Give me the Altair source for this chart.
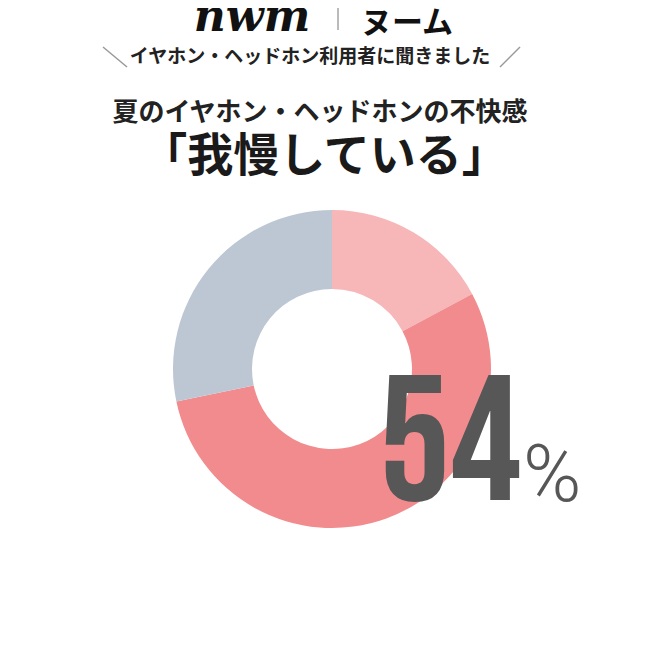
import altair as alt
import pandas as pd

# ---- data ----
categories = ["とても我慢している", "我慢している", "我慢していない"]
values = [17, 54, 28]
colors = ["#F7B6B8", "#F28B8D", "#BDC7D3"]

brand_latin = "nwm"
brand_kana = "ヌーム"
subtitle = "イヤホン・ヘッドホン利用者に聞きました"
title1 = "夏のイヤホン・ヘッドホンの不快感"
title2 = "「我慢している」"
big_number = "54"
percent_sign = "%"

W, H = 634, 632
JP = "Noto Sans CJK JP"

df = pd.DataFrame({"cat": categories, "value": values, "idx": list(range(len(values)))})

arc = alt.Chart(df).mark_arc(outerRadius=159, innerRadius=80).encode(
    theta=alt.Theta("value:Q", stack=True),
    color=alt.Color("cat:N", scale=alt.Scale(domain=categories, range=colors), legend=None),
    order=alt.Order("idx:Q"),
    x=alt.value(324),
    y=alt.value(361),
)


def txt(s, x, y, size, font, weight="normal", color="#222222", align="center", style="normal"):
    return alt.Chart(pd.DataFrame({"t": [s]})).mark_text(
        fontSize=size, font=font, fontWeight=weight, color=color,
        align=align, baseline="alphabetic", fontStyle=style,
    ).encode(text="t:N", x=alt.value(x), y=alt.value(y))


def line(x1, y1, x2, y2, color="#999999", width=1.5):
    return alt.Chart(pd.DataFrame({"a": [0]})).mark_rule(color=color, strokeWidth=width).encode(
        x=alt.value(x1), y=alt.value(y1), x2=alt.value(x2), y2=alt.value(y2)
    )


layers = [
    arc,
    txt(brand_latin, 244, 23, 44, "DejaVu Serif", weight="bold", color="#111111", style="italic"),
    line(330, 0, 330, 22, color="#777777", width=1),
    txt(brand_kana, 399, 25, 31, JP, weight="bold", color="#111111"),
    line(95, 39, 119, 59),
    line(492, 59, 512, 39),
    txt(subtitle, 302, 55, 19, JP, weight="bold", color="#222222"),
    txt(title1, 312, 113, 26, JP, weight="bold", color="#222222"),
    txt(title2, 316.5, 163, 46, JP, weight="bold", color="#1a1a1a"),
    txt(big_number, 371, 492, 178, "Bebas Neue", weight="normal", color="#575757", align="left"),
    txt(percent_sign, 515, 493, 79, "Roboto", weight=300, color="#575757", align="left"),
]

chart = alt.layer(*layers).properties(
    width=W, height=H, autosize=alt.AutoSizeParams(type="none"), padding=0
).configure_view(stroke=None)

chart.save("out.html", embed_options={"renderer": "svg", "actions": False})
